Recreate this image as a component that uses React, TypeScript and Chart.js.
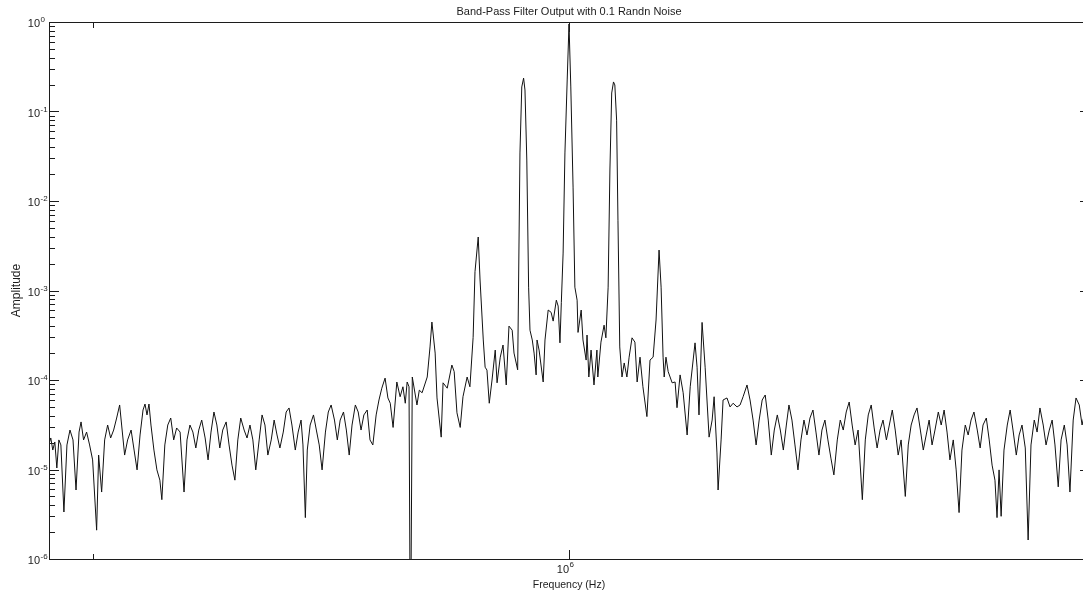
import { useEffect, useRef } from "react";
import { Chart, registerables } from "chart.js";

Chart.register(...registerables);

// Spectrum samples: frequency in kHz and the matching amplitude.
const freqKHz: number[] = [
  891.2, 891.6, 892.0, 892.4, 892.8, 893.2, 893.6, 894.2, 894.8, 895.4,
  896.0, 896.6, 897.2, 897.6, 898.1, 898.7, 899.3, 899.9, 900.7, 901.1,
  901.7, 902.3, 902.9, 903.5, 904.1, 904.7, 905.3, 905.7, 906.3, 906.9,
  907.6, 908.2, 908.8, 909.4, 910.0, 910.4, 910.8, 911.2, 911.6, 912.2,
  912.8, 913.4, 913.8, 914.4, 915.0, 915.6, 916.2, 916.8, 917.5, 918.3,
  918.9, 919.5, 920.1, 920.7, 921.3, 921.9, 922.6, 923.2, 923.8, 924.4,
  925.0, 925.6, 926.2, 926.9, 927.5, 928.1, 928.7, 929.3, 929.9, 930.6,
  931.2, 931.8, 932.4, 933.0, 933.7, 934.3, 934.9, 935.5, 936.2, 936.8,
  937.4, 938.0, 938.7, 939.3, 939.9, 940.5, 941.2, 941.8, 942.4, 942.8,
  943.3, 943.7, 944.3, 945.0, 945.6, 946.2, 946.8, 947.5, 948.1, 948.7,
  949.4, 950.0, 950.6, 951.3, 951.9, 952.5, 953.1, 953.8, 954.4, 955.0,
  955.6, 956.3, 956.9, 957.5, 958.2, 958.8, 959.4, 960.1, 960.7, 961.2,
  961.8, 962.6, 963.3, 963.9, 964.4, 964.8, 965.2, 965.5, 965.9, 966.9,
  967.4, 968.0, 969.1, 969.7, 970.1, 970.8, 971.2, 972.1, 972.5, 973.4,
  974.4, 974.9, 975.5, 976.2, 976.8, 977.7, 978.3, 979.0, 979.4, 980.1,
  980.5, 981.2, 981.6, 982.0, 982.5, 983.1, 983.8, 984.2, 984.9, 985.5,
  986.2, 986.8, 987.5, 987.9, 988.7, 989.2, 989.6, 990.0, 990.3, 990.7,
  991.1, 991.4, 991.9, 992.3, 992.75, 992.95, 993.4, 994.3, 994.7, 995.4,
  996.05, 996.5, 997.2, 997.6, 998.0, 998.3, 998.7, 999.1, 999.6, 1000.0,
  1000.4, 1000.9, 1001.3, 1001.8, 1002.0, 1002.7, 1003.1, 1003.8, 1004.0, 1004.4,
  1004.9, 1005.55, 1006.2, 1006.4, 1007.1, 1007.8, 1008.2, 1008.7, 1009.1, 1009.5,
  1009.9, 1010.2, 1010.6, 1010.9, 1011.3, 1011.8, 1012.3, 1012.9, 1013.4, 1014.05,
  1014.7, 1015.2, 1015.85, 1016.5, 1017.4, 1018.1, 1018.8, 1019.46, 1020.14, 1020.6,
  1021.05, 1021.3, 1021.7, 1022.2, 1023.1, 1023.77, 1024.2, 1024.9, 1025.6, 1026.5,
  1027.2, 1028.3, 1028.76, 1029.2, 1029.9, 1030.6, 1031.5, 1032.2, 1032.65, 1033.3,
  1033.56, 1034.25, 1034.7, 1035.6, 1036.3, 1037.0, 1037.9, 1038.6, 1039.3, 1040.2,
  1040.9, 1041.6, 1042.3, 1043.0, 1043.7, 1044.4, 1045.1, 1045.8, 1046.5, 1047.2,
  1047.9, 1048.6, 1049.3, 1049.9, 1050.6, 1051.3, 1052.0, 1052.7, 1053.4, 1054.1,
  1054.8, 1055.5, 1056.2, 1056.9, 1057.6, 1058.3, 1059.0, 1059.7, 1060.4, 1061.2,
  1061.9, 1062.6, 1063.3, 1064.0, 1064.7, 1065.4, 1066.1, 1067.1, 1067.8, 1068.5,
  1069.2, 1069.9, 1070.6, 1071.3, 1072.0, 1072.8, 1073.5, 1074.2, 1074.9, 1075.6,
  1076.3, 1077.3, 1078.0, 1078.7, 1079.4, 1080.1, 1080.9, 1081.6, 1082.3, 1083.0,
  1083.7, 1084.4, 1085.2, 1085.9, 1086.6, 1087.3, 1088.0, 1088.8, 1089.5, 1090.2,
  1090.9, 1091.7, 1092.4, 1093.1, 1093.8, 1094.6, 1095.3, 1096.0, 1096.8, 1097.5,
  1098.2, 1098.9, 1099.4, 1099.9, 1100.4, 1101.1, 1101.9, 1102.6, 1103.3, 1104.1,
  1104.8, 1105.5, 1106.3, 1107.0, 1107.7, 1108.5, 1109.2, 1109.9, 1110.7, 1111.4,
  1112.2, 1112.9, 1113.6, 1114.4, 1115.1, 1115.9, 1116.6, 1117.3, 1118.1, 1118.8,
  1119.6, 1120.3, 1121.1, 1122.1,
];

const amplitude: number[] = [
  1.88e-5, 2.25e-5, 1.65e-5, 2.03e-5, 1.04e-5, 2.14e-5, 1.88e-5, 3.35e-6, 1.88e-5, 2.76e-5,
  2.14e-5, 5.9e-6, 2.62e-5, 3.4e-5, 2.14e-5, 2.62e-5, 1.88e-5, 1.28e-5, 2.1e-6, 1.45e-5,
  5.6e-6, 2.14e-5, 3.14e-5, 2.25e-5, 2.76e-5, 3.76e-5, 5.26e-5, 3.14e-5, 1.45e-5, 2.14e-5,
  2.76e-5, 1.65e-5, 9.9e-6, 2.43e-5, 4.62e-5, 5.39e-5, 4.07e-5, 5.39e-5, 3.14e-5, 1.65e-5,
  9.9e-6, 7.6e-6, 4.6e-6, 1.88e-5, 3.14e-5, 3.76e-5, 2.14e-5, 2.91e-5, 2.62e-5, 5.6e-6,
  2.14e-5, 3.14e-5, 2.62e-5, 1.74e-5, 2.76e-5, 3.57e-5, 2.25e-5, 1.28e-5, 2.62e-5, 4.39e-5,
  3.14e-5, 1.74e-5, 2.76e-5, 3.4e-5, 1.88e-5, 1.12e-5, 7.6e-6, 2.14e-5, 3.76e-5, 2.76e-5,
  2.25e-5, 3.14e-5, 2.14e-5, 9.9e-6, 2.14e-5, 4.07e-5, 3.14e-5, 1.45e-5, 2.14e-5, 3.57e-5,
  2.43e-5, 1.74e-5, 2.62e-5, 4.39e-5, 4.87e-5, 3.14e-5, 1.65e-5, 2.62e-5, 3.57e-5, 1.88e-5,
  2.9e-6, 1.65e-5, 3.14e-5, 4.07e-5, 2.76e-5, 1.88e-5, 9.9e-6, 2.62e-5, 4.39e-5, 5.26e-5,
  3.57e-5, 2.14e-5, 3.57e-5, 4.39e-5, 2.76e-5, 1.45e-5, 3.14e-5, 5.26e-5, 4.39e-5, 2.76e-5,
  4.07e-5, 4.62e-5, 2.14e-5, 1.88e-5, 4.07e-5, 5.98e-5, 8.1e-5, 1.05e-4, 6.3e-5, 5.5e-5,
  2.95e-5, 9.5e-5, 6.5e-5, 8.4e-5, 5.5e-5, 9.5e-5, 8.4e-5, 5e-8, 1.08e-4, 5.26e-5,
  7.7e-5, 7.2e-5, 1.08e-4, 2.34e-4, 4.44e-4, 2.0e-4, 6.3e-5, 2.3e-5, 9.3e-5, 8.1e-5,
  1.47e-4, 1.24e-4, 4.3e-5, 2.95e-5, 6.5e-5, 1.08e-4, 8.4e-5, 3.0e-4, 1.62e-3, 3.96e-3,
  1.31e-3, 2.8e-4, 1.39e-4, 1.29e-4, 5.5e-5, 1.0e-4, 2.16e-4, 9.3e-5, 1.8e-4, 2.46e-4,
  8.8e-5, 4.0e-4, 3.6e-4, 2.0e-4, 1.3e-4, 3.44e-2, 0.188, 0.236, 0.174, 2.87e-2,
  1.09e-3, 3.6e-4, 2.8e-4, 2.0e-4, 1.14e-4, 2.8e-4, 2.16e-4, 9.5e-5, 2.8e-4, 6.05e-4,
  5.7e-4, 4.55e-4, 7.8e-4, 6.7e-4, 2.6e-4, 7.3e-4, 2.62e-3, 3.44e-2, 0.225, 0.95,
  0.188, 1.43e-2, 1.09e-3, 7.8e-4, 3.4e-4, 6.05e-4, 2.8e-4, 1.67e-4, 3.18e-4, 1.08e-4,
  2.16e-4, 8.8e-5, 2.16e-4, 1.08e-4, 2.65e-4, 4.1e-4, 2.96e-4, 1.09e-3, 2.22e-2, 0.161,
  0.214, 0.198, 8.0e-2, 6.1e-3, 2.34e-4, 1.08e-4, 1.55e-4, 1.08e-4, 1.8e-4, 2.96e-4,
  2.65e-4, 9.5e-5, 1.8e-4, 8.4e-5, 3.9e-5, 1.67e-4, 1.8e-4, 4.68e-4, 2.83e-3, 1.09e-3,
  1.8e-4, 1.08e-4, 1.8e-4, 1.24e-4, 9.3e-5, 9.5e-5, 4.9e-5, 1.14e-4, 7.2e-5, 2.43e-5,
  8.4e-5, 2.6e-4, 1.39e-4, 4.07e-5, 4.4e-4, 1.39e-4, 2.3e-5, 3.57e-5, 6.5e-5, 1.53e-5,
  5.9e-6, 2.14e-5, 5.98e-5, 6.3e-5, 5.0e-5, 5.5e-5, 5.0e-5, 5.26e-5, 6.5e-5, 8.8e-5,
  5.98e-5, 3.57e-5, 1.88e-5, 3.57e-5, 5.98e-5, 6.8e-5, 3.57e-5, 1.45e-5, 2.76e-5, 4.07e-5,
  2.76e-5, 1.65e-5, 3.14e-5, 5.26e-5, 3.57e-5, 1.88e-5, 9.9e-6, 2.14e-5, 3.57e-5, 2.43e-5,
  3.76e-5, 4.62e-5, 2.62e-5, 1.45e-5, 2.76e-5, 3.57e-5, 2.14e-5, 1.34e-5, 8.7e-6, 2.14e-5,
  3.57e-5, 2.76e-5, 4.39e-5, 5.68e-5, 3.14e-5, 1.88e-5, 2.76e-5, 4.6e-6, 2.14e-5, 4.07e-5,
  5.26e-5, 2.91e-5, 1.74e-5, 2.76e-5, 3.57e-5, 2.14e-5, 3.14e-5, 4.62e-5, 2.76e-5, 1.45e-5,
  2.14e-5, 5.0e-6, 1.88e-5, 3.14e-5, 4.07e-5, 4.87e-5, 2.76e-5, 1.65e-5, 2.43e-5, 3.57e-5,
  1.88e-5, 2.76e-5, 4.39e-5, 3.14e-5, 4.62e-5, 2.62e-5, 1.28e-5, 2.14e-5, 9.9e-6, 3.3e-6,
  1.65e-5, 3.14e-5, 2.43e-5, 3.57e-5, 4.39e-5, 2.76e-5, 1.74e-5, 3.14e-5, 3.76e-5, 2.14e-5,
  1.12e-5, 7.6e-6, 2.9e-6, 9.9e-6, 3.0e-6, 1.65e-5, 3.14e-5, 4.62e-5, 2.76e-5, 1.45e-5,
  2.43e-5, 3.14e-5, 1.74e-5, 1.63e-6, 1.88e-5, 3.57e-5, 2.62e-5, 4.87e-5, 3.14e-5, 1.88e-5,
  2.76e-5, 3.57e-5, 1.88e-5, 6.4e-6, 2.14e-5, 3.14e-5, 1.88e-5, 5.6e-6, 3.57e-5, 6.3e-5,
  5.26e-5, 3.14e-5, 4.62e-5, 3.57e-5,
];

// Axis limits and ticks (log10 exponents and labels).
const xLimitExp: [number, number] = [5.95, 6.05];
const yLimitExp: [number, number] = [-6, 0];
const xMajorExp: number[] = [6];
const xMinorTicks: number[] = [9e5];
const yMajorExp: number[] = [0, -1, -2, -3, -4, -5, -6];
const yMinorSteps: number[] = [2, 3, 4, 5, 6, 7, 8, 9];

const titleText = "Band-Pass Filter Output with 0.1 Randn Noise";
const xLabelText = "Frequency (Hz)";
const yLabelText = "Amplitude";

const FONT = '"Liberation Sans", Arial, Helvetica, sans-serif';
const INK = "#1c1c1c";
const MAJOR_LEN = 10;
const MINOR_LEN = 6;

function drawPower(
  ctx: CanvasRenderingContext2D,
  exp: string,
  anchorX: number,
  baseY: number,
  expY: number
) {
  ctx.textAlign = "right";
  ctx.font = `11px ${FONT}`;
  ctx.fillText("10", anchorX, baseY);
  ctx.textAlign = "left";
  ctx.font = `8px ${FONT}`;
  ctx.fillText(exp, anchorX + 0.5, expY);
}

const matlabAxes = {
  id: "matlabAxes",
  afterDatasetsDraw(chart: Chart) {
    const { ctx, chartArea: a, scales } = chart;
    const xs = scales.x;
    const ys = scales.y;
    const w = a.right - a.left;
    const h = a.bottom - a.top;
    ctx.save();
    ctx.fillStyle = INK;

    // box
    ctx.fillRect(a.left, a.top, w + 1, 1);
    ctx.fillRect(a.left, a.bottom, w + 1, 1);
    ctx.fillRect(a.left, a.top, 1, h + 1);
    ctx.fillRect(a.right, a.top, 1, h + 1);

    // y ticks on left and right
    for (const e of yMajorExp) {
      const py = Math.round(ys.getPixelForValue(Math.pow(10, e)));
      ctx.fillRect(a.left, py, MAJOR_LEN, 1);
      ctx.fillRect(a.right - MAJOR_LEN + 1, py, MAJOR_LEN, 1);
      if (e > yLimitExp[0]) {
        for (const m of yMinorSteps) {
          const pm = Math.round(ys.getPixelForValue(m * Math.pow(10, e - 1)));
          ctx.fillRect(a.left, pm, MINOR_LEN, 1);
          ctx.fillRect(a.right - MINOR_LEN + 1, pm, MINOR_LEN, 1);
        }
      }
    }

    // x ticks on bottom and top
    for (const e of xMajorExp) {
      const px = Math.round(xs.getPixelForValue(Math.pow(10, e)));
      ctx.fillRect(px, a.bottom - MAJOR_LEN + 1, 1, MAJOR_LEN);
      ctx.fillRect(px, a.top, 1, MAJOR_LEN);
    }
    for (const v of xMinorTicks) {
      const px = Math.round(xs.getPixelForValue(v));
      ctx.fillRect(px, a.bottom - MINOR_LEN + 1, 1, MINOR_LEN);
      ctx.fillRect(px, a.top, 1, MINOR_LEN);
    }

    // tick labels
    ctx.textBaseline = "alphabetic";
    for (const e of yMajorExp) {
      const py = ys.getPixelForValue(Math.pow(10, e));
      drawPower(ctx, String(e), 40, py + 5, py);
    }
    for (const e of xMajorExp) {
      const px = xs.getPixelForValue(Math.pow(10, e));
      drawPower(ctx, String(e), px, a.bottom + 14, a.bottom + 8);
    }

    // title and axis labels
    const cx = (a.left + a.right) / 2;
    ctx.textAlign = "center";
    ctx.font = `11px ${FONT}`;
    ctx.fillText(titleText, cx, a.top - 7);
    ctx.font = `10.5px ${FONT}`;
    ctx.fillText(xLabelText, cx, a.bottom + 29);

    ctx.save();
    ctx.translate(20, (a.top + a.bottom) / 2);
    ctx.rotate(-Math.PI / 2);
    ctx.font = `12px ${FONT}`;
    ctx.textAlign = "center";
    ctx.fillText(yLabelText, 0, 0);
    ctx.restore();

    ctx.restore();
  },
};

export default function App() {
  const canvasRef = useRef<HTMLCanvasElement>(null);

  useEffect(() => {
    const canvas = canvasRef.current;
    if (!canvas) return;
    const points = freqKHz.map((f, i) => ({ x: f * 1000, y: amplitude[i] }));
    const chart = new Chart(canvas, {
      type: "line",
      data: {
        datasets: [
          {
            data: points,
            borderColor: "#111111",
            borderWidth: 1,
            pointRadius: 0,
            tension: 0,
            fill: false,
          },
        ],
      },
      options: {
        responsive: false,
        animation: false,
        events: [],
        devicePixelRatio: 1,
        layout: { padding: { left: 49, top: 22, right: 1, bottom: 37 } },
        plugins: {
          legend: { display: false },
          tooltip: { enabled: false },
          title: { display: false },
        },
        scales: {
          x: {
            type: "logarithmic",
            min: Math.pow(10, xLimitExp[0]),
            max: Math.pow(10, xLimitExp[1]),
            display: false,
          },
          y: {
            type: "logarithmic",
            min: Math.pow(10, yLimitExp[0]),
            max: Math.pow(10, yLimitExp[1]),
            display: false,
          },
        },
      },
      plugins: [matlabAxes],
    });
    return () => chart.destroy();
  }, []);

  return (
    <div
      style={{
        position: "fixed",
        left: 0,
        top: 0,
        width: 1083,
        height: 596,
        overflow: "hidden",
        background: "#ffffff",
      }}
    >
      <canvas ref={canvasRef} width={1090} height={596} style={{ display: "block" }} />
    </div>
  );
}
